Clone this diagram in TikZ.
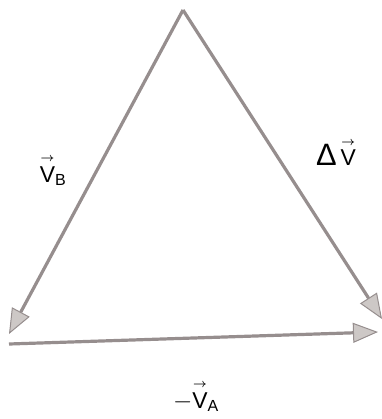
\documentclass[tikz,border=0pt]{standalone}
\usepackage{amsmath}
\usepackage{fontspec}
\setmainfont{Liberation Sans}
\usetikzlibrary{arrows.meta}
\newcommand\vecsf[1]{\ensuremath{\overset{\scriptscriptstyle\boldsymbol{\rightarrow}}{\text{#1}}}}
\definecolor{vline}{RGB}{150,142,142}
\definecolor{vhead}{RGB}{205,200,198}
\tikzset{
  vecline/.style={draw=vline, line width=3.2bp,
    -{Triangle[length=25bp,width=20bp,fill=vhead,line width=1bp]}},
  lbl/.style={font=\fontsize{23}{26}\selectfont, inner sep=0pt}
}
\begin{document}
\begin{tikzpicture}[x=1bp,y=-1bp]
\useasboundingbox (0,0) rectangle (382,419);
\coordinate (apex) at (183,10);
\coordinate (left) at (9,334);
\coordinate (start) at (9,344);
\coordinate (bend) at (378,332);
\coordinate (right) at (382,319);
\draw[vecline] (apex) -- (left);
\draw[vecline] (apex) -- (right);
\draw[vecline] (start) -- (bend);
\node[lbl] (vb) at (53,170) {\vecsf{V}$_{\text{B}}$};
\node[lbl] (dv) at (336,152) {{\fontsize{31}{31}\selectfont Δ}\,\vecsf{V}};
\node[lbl] (va) at (196,396) {$-$\vecsf{V}$_{\text{A}}$};
\end{tikzpicture}
\end{document}
